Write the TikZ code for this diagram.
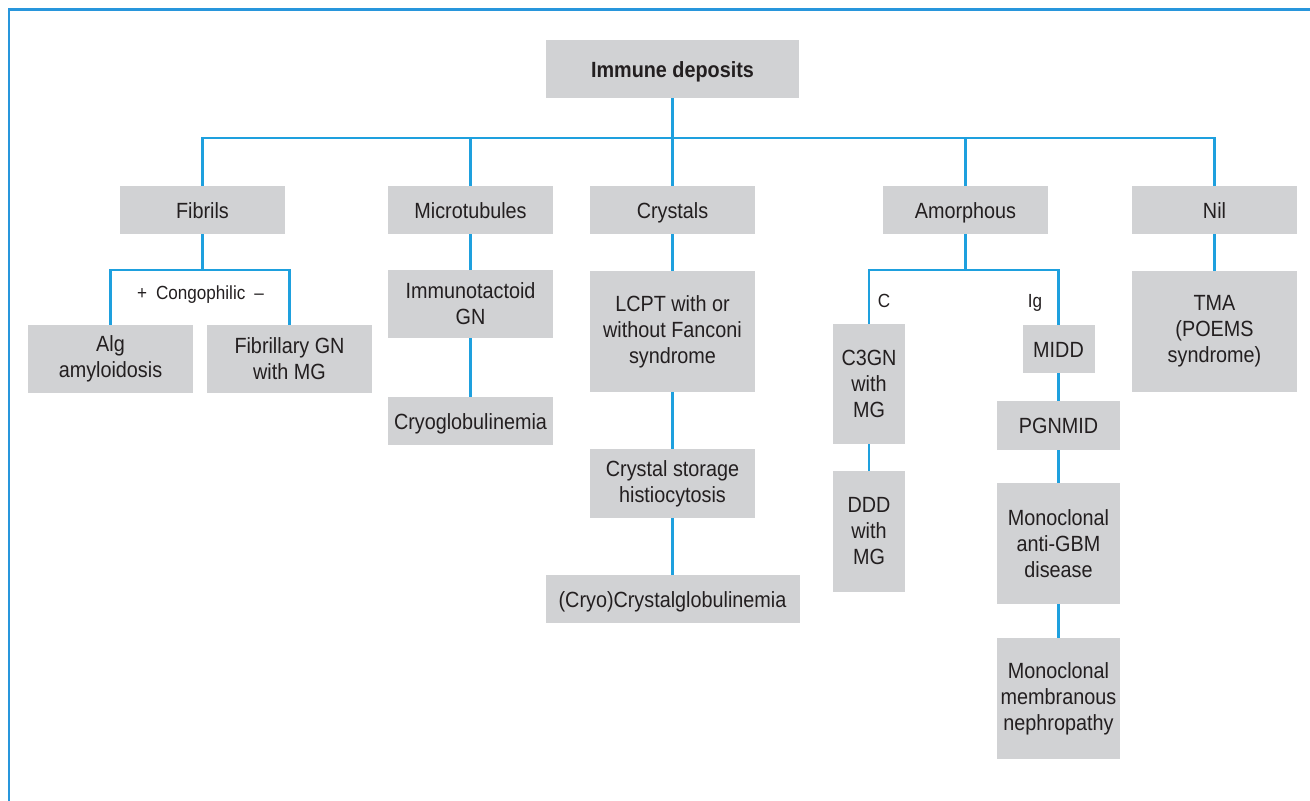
\documentclass[tikz,border=0pt]{standalone}
\usepackage{fontspec}
\setmainfont[FakeStretch=0.9]{Liberation Sans}
\definecolor{lineblue}{RGB}{30,160,222}
\definecolor{frameblue}{RGB}{40,150,220}
\definecolor{boxgray}{RGB}{209,210,212}
\definecolor{inkgray}{RGB}{35,31,32}
\begin{document}
\begin{tikzpicture}[x=1pt,y=-1pt,
  box/.style={fill=boxgray, draw=none, inner sep=0pt, align=center, text=inkgray,
              font=\fontsize{22}{26}\selectfont},
  one/.style={text height=16pt, text depth=0pt},
  lab/.style={inner sep=0pt, anchor=base, text=inkgray, font=\fontsize{19}{22}\selectfont},
  conn/.style={draw=lineblue, line width=2.5pt},
  frame/.style={draw=frameblue, line width=2.2pt}]
\useasboundingbox (0,0) rectangle (1310,801);
\path[fill=white] (0,0) rectangle (1310,801);
\draw[frame] (1310,9.5) -- (9,9.5) -- (9,801);

% level 0
\node[box, one, minimum width=253pt, minimum height=58pt, font=\fontsize{22}{26}\selectfont\bfseries] (top) at (672.5,69) {Immune deposits};
% level 1
\node[box, one, minimum width=165pt, minimum height=48pt] (fib)   at (202.5,210) {Fibrils};
\node[box, one, minimum width=165pt, minimum height=48pt] (micro) at (470.5,210) {Microtubules};
\node[box, one, minimum width=165pt, minimum height=48pt] (crys)  at (672.5,210) {Crystals};
\node[box, one, minimum width=165pt, minimum height=48pt] (amor)  at (965.5,210) {Amorphous};
\node[box, one, minimum width=165pt, minimum height=48pt] (nil)   at (1214.5,210) {Nil};
% fibrils
\node[box, minimum width=165pt, minimum height=68pt] (alg) at (110.5,359) {Alg\\amyloidosis};
\node[box, minimum width=165pt, minimum height=68pt] (fgn) at (289.5,359) {Fibrillary GN\\with MG};
% microtubules
\node[box, minimum width=165pt, minimum height=68pt] (itg) at (470.5,304) {Immunotactoid\\GN};
\node[box, one, minimum width=165pt, minimum height=48pt] (cryog) at (470.5,421) {Cryoglobulinemia};
% crystals
\node[box, minimum width=165pt, minimum height=121pt] (lcpt) at (672.5,331.5) {LCPT with or\\without Fanconi\\syndrome};
\node[box, minimum width=165pt, minimum height=69pt] (csh) at (672.5,483.5) {Crystal storage\\histiocytosis};
\node[box, one, minimum width=254pt, minimum height=48pt] (ccg) at (672.5,599) {(Cryo)Crystalglobulinemia};
% amorphous
\node[box, minimum width=72pt, minimum height=120pt] (c3) at (869,384) {C3GN\\with\\MG};
\node[box, minimum width=72pt, minimum height=121pt] (ddd) at (869,531.5) {DDD\\with\\MG};
\node[box, one, minimum width=72pt, minimum height=48pt] (midd) at (1058.5,349) {MIDD};
\node[box, one, minimum width=123pt, minimum height=49pt] (pgn) at (1058.5,425.5) {PGNMID};
\node[box, minimum width=123pt, minimum height=121pt] (gbm) at (1058.5,543.5) {Monoclonal\\anti-GBM\\disease};
\node[box, minimum width=123pt, minimum height=121pt] (memb) at (1058.5,698.5) {Monoclonal\\membranous\\nephropathy};
% nil
\node[box, minimum width=165pt, minimum height=121pt] (tma) at (1214.5,331.5) {TMA\\(POEMS\\syndrome)};

% labels
\node[lab] (congo) at (200.5,299) {+\hspace{9pt}Congophilic\hspace{9pt}–};
\node[lab] (lc) at (884,307) {C};
\node[lab] (lig) at (1035,307) {Ig};

% connectors
\coordinate (bus) at (0,138);
\coordinate (fbus) at (0,270);
\coordinate (abus) at (0,270);
\draw[conn] (top.south) -- (crys.north);
\draw[conn] (fib.north) -- (fib.north |- bus) -- (nil.north |- bus) -- (nil.north);
\draw[conn] (micro.north) -- (micro.north |- bus);
\draw[conn] (amor.north) -- (amor.north |- bus);

\draw[conn] (fib.south) -- (fib.south |- fbus);
\draw[conn] (alg.north) -- (alg.north |- fbus) -- (fgn.north |- fbus) -- (fgn.north);

\draw[conn] (micro.south) -- (itg.north);
\draw[conn] (itg.south) -- (cryog.north);

\draw[conn] (crys.south) -- (lcpt.north);
\draw[conn] (lcpt.south) -- (csh.north);
\draw[conn] (csh.south) -- (ccg.north);

\draw[conn] (amor.south) -- (amor.south |- abus);
\draw[conn] (c3.north) -- (c3.north |- abus) -- (midd.north |- abus) -- (midd.north);
\draw[conn] (c3.south) -- (ddd.north);
\draw[conn] (midd.south) -- (pgn.north);
\draw[conn] (pgn.south) -- (gbm.north);
\draw[conn] (gbm.south) -- (memb.north);

\draw[conn] (nil.south) -- (tma.north);
\end{tikzpicture}
\end{document}
